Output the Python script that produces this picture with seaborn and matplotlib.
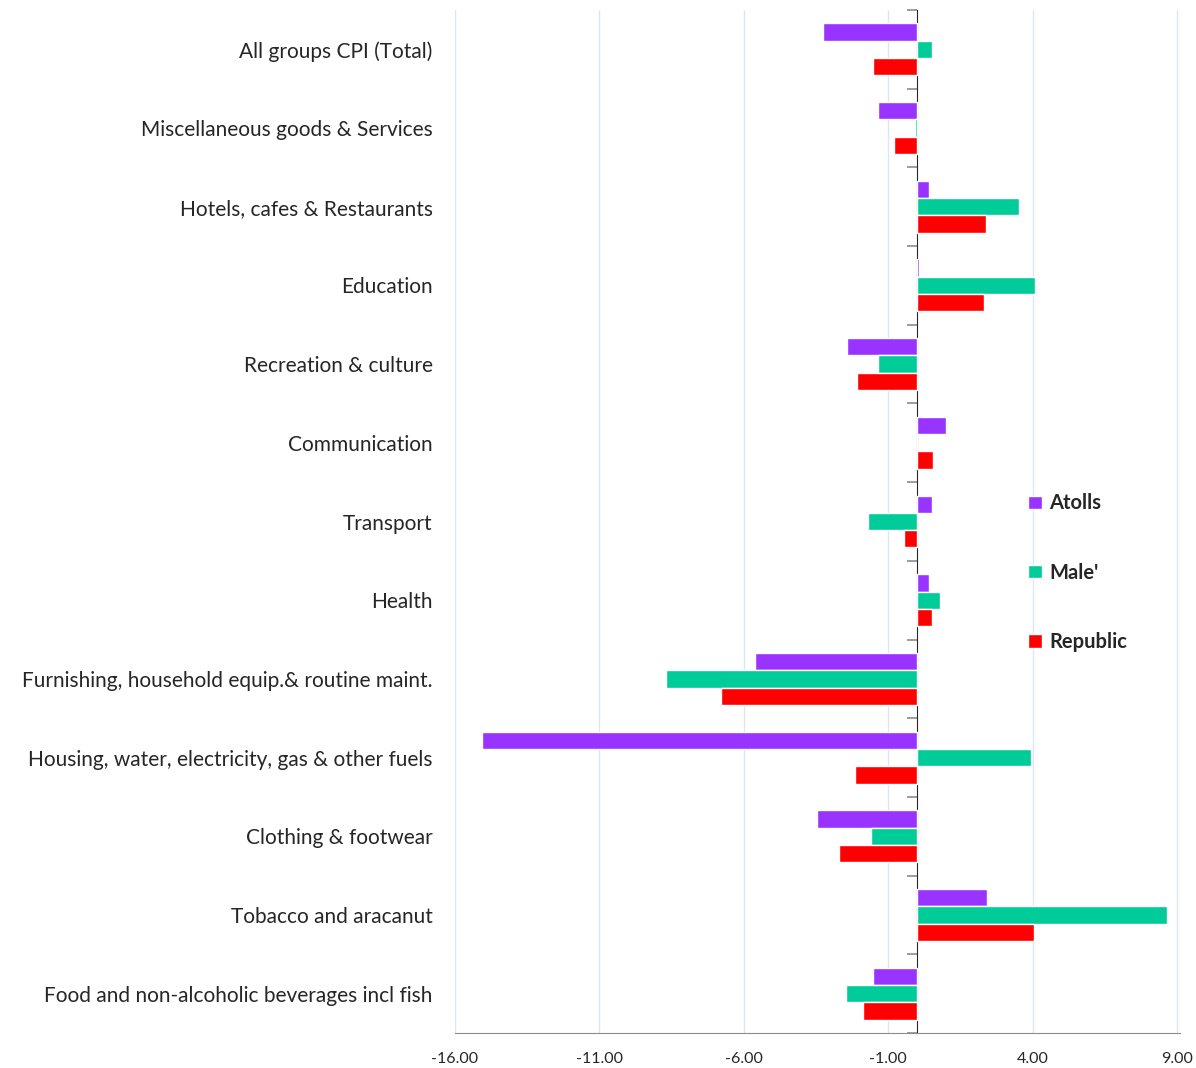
import pandas as pd
import matplotlib
matplotlib.use("Agg")
import matplotlib.pyplot as plt
import seaborn as sns
from matplotlib.ticker import FormatStrFormatter

categories = [
    "All groups CPI (Total)",
    "Miscellaneous goods & Services",
    "Hotels, cafes & Restaurants",
    "Education",
    "Recreation & culture",
    "Communication",
    "Transport",
    "Health",
    "Furnishing, household equip.& routine maint.",
    "Housing, water, electricity, gas & other fuels",
    "Clothing & footwear",
    "Tobacco and aracanut",
    "Food and non-alcoholic beverages incl fish",
]
atolls = [-3.26, -1.35, 0.40, 0.07, -2.42, 1.00, 0.52, 0.40, -5.60, -15.07, -3.45, 2.43, -1.54]
male = [0.50, -0.08, 3.51, 4.09, -1.35, 0.00, -1.69, 0.80, -8.70, 3.94, -1.59, 8.65, -2.46]
republic = [-1.54, -0.81, 2.37, 2.32, -2.08, 0.56, -0.46, 0.52, -6.79, -2.16, -2.72, 4.04, -1.88]
series = ["Atolls", "Male'", "Republic"]
colors = ["#9933FF", "#00CC99", "#FF0000"]
x_ticks = [-16, -11, -6, -1, 4, 9]

df = pd.DataFrame({
    "category": categories * 3,
    "value": atolls + male + republic,
    "region": [s for s in series for _ in categories],
})

sns.set_style("white")
plt.rcParams["font.family"] = ["Lato", "DejaVu Sans"]

fig = plt.figure(figsize=(11.96, 10.68), dpi=100)
ax = fig.add_axes([0.3804, 0.0328, 0.6062, 0.9578])

sns.barplot(data=df, x="value", y="category", hue="region", order=categories,
            hue_order=series, palette=colors, width=0.66, orient="h",
            saturation=1, ax=ax, legend=True)

ax.set_xlim(-16, 9.1)
ax.set_ylim(len(categories) - 0.5, -0.5)
ax.set_xticks(x_ticks)
ax.xaxis.set_major_formatter(FormatStrFormatter("%.2f"))
ax.grid(axis="x", color="#dce6f2", linewidth=1)
ax.set_axisbelow(True)
ax.set_xlabel("")
ax.set_ylabel("")

for side in ["top", "right", "left"]:
    ax.spines[side].set_visible(False)
ax.spines["bottom"].set_color("#8c8c8c")
ax.tick_params(axis="x", length=6, width=1, color="#8c8c8c", direction="out",
               labelsize=11.5, pad=8)
ax.tick_params(axis="y", length=0, labelsize=15, pad=16)

# vertical axis line at zero with ticks between categories
zero_pos = (0 - ax.get_xlim()[0]) / (ax.get_xlim()[1] - ax.get_xlim()[0])
sec = ax.secondary_yaxis(zero_pos)
sec.set_yticks([i + 0.5 for i in range(-1, len(categories))])
sec.yaxis.set_ticks_position("left")
sec.set_yticklabels([])
sec.tick_params(length=7, width=1.2, color="#8c8c8c", direction="out",
                labelleft=False, labelright=False)
sec.spines["left"].set_color("#8c8c8c")
sec.spines["left"].set_linewidth(1.3)

leg = ax.legend(loc="center left", bbox_to_anchor=(0.766, 0.45), frameon=False,
                handlelength=0.65, handleheight=0.65, handletextpad=0.4,
                labelspacing=2.45, prop={"weight": "bold", "size": 14.5})

fig.savefig("out.png", dpi=100)
